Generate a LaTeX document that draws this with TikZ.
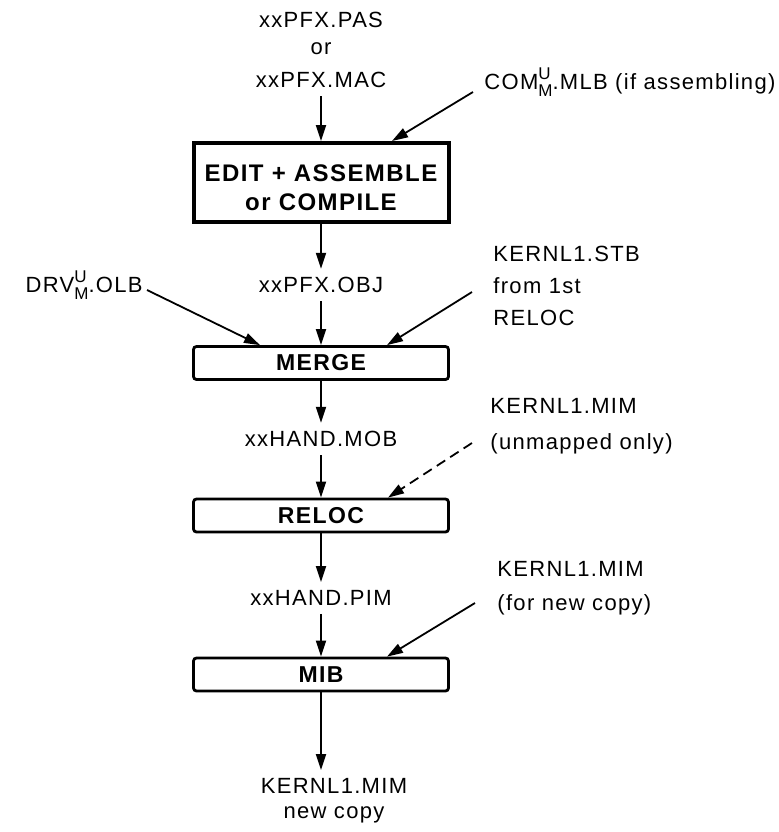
\documentclass[tikz,border=0pt]{standalone}
\usepackage{fontspec}
\setmainfont[LetterSpace=6]{Liberation Sans}
\usetikzlibrary{arrows.meta}

\newcommand{\UM}{\makebox[0pt][l]{\raisebox{5.3pt}{\fontsize{8.5}{8.5}\selectfont U}}\raisebox{-3.5pt}{\fontsize{8.5}{8.5}\selectfont M}}

\begin{document}
\begin{tikzpicture}[x=0.5pt,y=-0.5pt,
  font=\fontsize{11}{16}\selectfont,
  file/.style={inner sep=4pt},
  note/.style={inner sep=0pt,align=left,anchor=west},
  stepbox/.style={draw,line width=1.4pt,rounded corners=1.5pt,minimum width=127.5pt,minimum height=16.5pt,inner sep=0pt,font=\fontsize{11.5}{14.5}\selectfont\bfseries},
  arr/.style={line width=0.9pt,-{Triangle[length=8pt,width=5pt]}}]
\useasboundingbox (0,0) rectangle (779,832);

%main column
\node[file] (pas) at (321,20) {xxPFX.PAS};
\node[file] (or) at (321,49) {or};
\node[file] (mac) at (321,80) {xxPFX.MAC};
\node[stepbox,line width=2pt,rounded corners=0pt,minimum height=39.5pt,align=center,font=\fontsize{12}{14.5}\selectfont\bfseries] (edit) at (321,182.5) {\rule{0pt}{13.6pt}EDIT + ASSEMBLE\\or COMPILE};
\node[file] (obj) at (321,285) {xxPFX.OBJ};
\node[stepbox] (merge) at (321,363) {MERGE};
\node[file] (mob) at (321,439) {xxHAND.MOB};
\node[stepbox] (reloc) at (321,515.5) {RELOC};
\node[file] (pim) at (321,598) {xxHAND.PIM};
\node[stepbox] (mib) at (321,674.5) {MIB};
\node[file] (kout) at (334,786) {KERNL1.MIM};
\node[file] (newcopy) at (334,815) {new copy};

%side inputs
\node[note] (com) at (484,82) {COM\UM.MLB (if assembling)};
\node[note,anchor=east] (drv) at (143,285) {DRV\UM.OLB};
\node[note] (stb) at (493,286) {KERNL1.STB\\from 1st\\RELOC};
\node[note,font=\fontsize{11}{18}\selectfont] (mim1) at (490,426) {KERNL1.MIM\\(unmapped only)};
\node[note,font=\fontsize{11}{17}\selectfont] (mim2) at (497,588) {KERNL1.MIM\\(for new copy)};

\coordinate (comtip) at ([xshift=35.5pt]edit.north);
\coordinate (drvtip) at ([xshift=-30.5pt]merge.north);
\coordinate (stbtip) at ([xshift=33pt]merge.north);
\coordinate (mimtip) at ([xshift=33.5pt]reloc.north);
\coordinate (newtip) at ([xshift=33pt]mib.north);

%flow
\draw[arr] (mac) -- (edit);
\draw[arr] (edit) -- (obj);
\draw[arr] (obj) -- (merge);
\draw[arr] (merge) -- (mob);
\draw[arr] (mob) -- (reloc);
\draw[arr] (reloc) -- (pim);
\draw[arr] (pim) -- (mib);
\draw[arr] (mib.south) -- (mib.south |- kout.north);

\draw[arr] ([shift={(-11,10)}]com.west) -- (comtip);
\draw[arr] ([shift={(4,5)}]drv.east) -- (drvtip);
\draw[arr] ([shift={(-21,6)}]stb.west) -- (stbtip);
\draw[arr,dash pattern=on 5pt off 3pt] ([shift={(-18,17)}]mim1.west) -- (mimtip);
\draw[arr] ([shift={(-22,15)}]mim2.west) -- (newtip);

\end{tikzpicture}
\end{document}
